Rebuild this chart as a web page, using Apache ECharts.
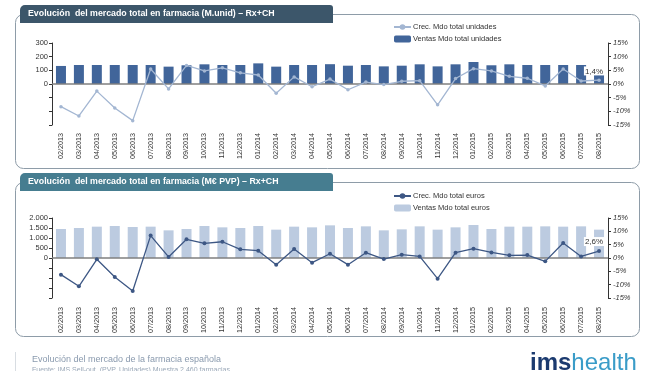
<!DOCTYPE html>
<html>
<head>
<meta charset="utf-8">
<script src="https://cdn.jsdelivr.net/npm/echarts@6/dist/echarts.min.js"></script>
<style>html,body{margin:0;padding:0;background:#fff;}#c{width:659px;height:371px;}</style>
</head>
<body>
<div id="c"></div>
<script>
var categories = ['02/2013','03/2013','04/2013','05/2013','06/2013','07/2013','08/2013','09/2013','10/2013','11/2013','12/2013',
  '01/2014','02/2014','03/2014','04/2014','05/2014','06/2014','07/2014','08/2014','09/2014','10/2014','11/2014','12/2014',
  '01/2015','02/2015','03/2015','04/2015','05/2015','06/2015','07/2015','08/2015'];
var unitsSales = [132,139,139,139,139,139,127,137,144,139,139,
  151,127,139,139,145,134,139,129,134,144,129,144,
  161,137,144,139,139,139,139,66];
var unitsGrowth = [-8.3,-11.7,-2.6,-8.8,-13.4,5.5,-1.8,6.8,4.8,5.9,4.1,
  3.3,-3.4,2.6,-1.0,1.8,-2.1,0.7,-0.2,1.0,1.2,-7.6,2.0,
  5.6,4.8,2.8,2.1,-0.7,5.5,1.1,1.4];
var eurosSales = [1450,1500,1567,1600,1550,1567,1383,1450,1600,1533,1500,
  1600,1417,1567,1533,1633,1500,1583,1383,1433,1583,1417,1533,
  1650,1450,1567,1567,1583,1567,1583,1417];
var eurosGrowth = [-6.25,-10.6,-0.5,-7.1,-12.4,8.4,0.4,7.0,5.5,6.1,3.25,
  2.75,-2.5,3.4,-1.75,1.6,-2.5,2.0,-0.4,1.25,0.6,-7.75,2.0,
  3.5,2.1,1.0,1.1,-1.25,5.6,0.6,2.6];
var unitsTicks = {min:-300, max:300, interval:100};
var eurosTicks = {min:-2000, max:2000, interval:500};
var pctTicks = {min:-15, max:15, interval:5};

var FONT = 'Liberation Sans, Arial, sans-serif';
function thousands(v){ return String(v).replace(/\B(?=(\d{3})+(?!\d))/g, '.'); }
function pctLabel(v){ return String(v).replace('.', ',') + '%'; }
function lastLabelData(arr){
  return arr.map(function(v, i){
    if (i === arr.length - 1) {
      return {value: v, label: {show: true, position: 'top', distance: 3, offset: [-5, 0],
        formatter: function(p){ return pctLabel(p.value); }, fontSize: 8, color: '#333', fontFamily: FONT,
        backgroundColor: '#fff', padding: [1, 1, 0, 1]}};
    }
    return v;
  });
}
var axisTxt = {fontSize: 7.5, color: '#333', fontFamily: FONT};
function catAxis(gi, margin){
  return {type: 'category', gridIndex: gi, data: categories, boundaryGap: true,
    axisLine: {show: false, onZero: false}, axisTick: {show: false},
    axisLabel: {rotate: 90, interval: 0, margin: margin, fontSize: 7.2, color: '#333', fontFamily: FONT}};
}
function leftAxis(gi, t, fmt){
  return {type: 'value', gridIndex: gi, position: 'left', min: t.min, max: t.max, interval: t.interval,
    axisLine: {show: true, lineStyle: {color: '#333', width: 1}},
    axisTick: {show: true, length: 3, lineStyle: {color: '#333'}},
    axisLabel: Object.assign({margin: 4, formatter: fmt}, axisTxt),
    splitLine: {show: false}};
}
function rightAxis(gi){
  return {type: 'value', gridIndex: gi, position: 'right', min: pctTicks.min, max: pctTicks.max, interval: pctTicks.interval,
    axisLine: {show: true, lineStyle: {color: '#333', width: 1}},
    axisTick: {show: true, length: 3, lineStyle: {color: '#333'}},
    axisLabel: Object.assign({margin: 5, fontStyle: 'italic', formatter: function(v){ return v + '%'; }}, axisTxt),
    splitLine: {show: false}};
}
var zeroLine = {silent: true, symbol: 'none', label: {show: false}, data: [{yAxis: 0}],
  lineStyle: {color: '#7f7f7f', width: 1.6, type: 'solid'}};

var chart = echarts.init(document.getElementById('c'), null, {renderer: 'canvas'});
chart.setOption({
  backgroundColor: '#fff',
  animation: false,
  graphic: [
    {type: 'rect', z: -10, shape: {x: 15.5, y: 14.5, width: 624, height: 154, r: 8},
      style: {fill: '#fff', stroke: '#8e9ca8', lineWidth: 1}},
    {type: 'rect', z: -10, shape: {x: 15.5, y: 182.5, width: 624, height: 154, r: 8},
      style: {fill: '#fff', stroke: '#8e9ca8', lineWidth: 1}},
    {type: 'rect', z: -5, shape: {x: 20, y: 5, width: 313, height: 18, r: [5, 3, 0, 0]},
      style: {fill: '#3c566a'}},
    {type: 'rect', z: -5, shape: {x: 20, y: 173, width: 313, height: 18, r: [5, 3, 0, 0]},
      style: {fill: '#467d90'}},
    {type: 'line', z: -5, shape: {x1: 15.5, y1: 352, x2: 15.5, y2: 371}, style: {stroke: '#d8dde2', lineWidth: 1}}
  ],
  title: [
    {text: 'Evolución  del mercado total en farmacia (M.unid) – Rx+CH', left: 28, top: 9, padding: 0, z: 10,
      textStyle: {fontSize: 8.8, fontWeight: 'bold', color: '#fff', fontFamily: FONT}},
    {text: 'Evolución  del mercado total en farmacia (M€ PVP) – Rx+CH', left: 28, top: 177, padding: 0, z: 10,
      textStyle: {fontSize: 8.8, fontWeight: 'bold', color: '#fff', fontFamily: FONT}},
    {text: 'Evolución del mercado de la farmacia española', left: 32, top: 355, padding: 0,
      textStyle: {fontSize: 9, fontWeight: 'normal', color: '#8a9aae', fontFamily: FONT}},
    {text: 'Fuente: IMS Sell-out. (PVP, Unidades) Muestra 2.460 farmacias', left: 32, top: 367, padding: 0,
      textStyle: {fontSize: 7, fontWeight: 'normal', color: '#9aa8b8', fontFamily: FONT}},
    {text: '{a|ims}{b|health}', left: 530, top: 351, padding: 0,
      textStyle: {fontFamily: FONT, rich: {
        a: {fontSize: 24, fontWeight: 'bold', color: '#1b3a6f', fontFamily: FONT},
        b: {fontSize: 24, fontWeight: 'normal', color: '#3a9cc8', fontFamily: FONT}}}}
  ],
  legend: [
    {orient: 'vertical', left: 388, top: 18, itemWidth: 17, itemHeight: 7, itemGap: 4,
      data: ['Crec. Mdo total unidades', 'Ventas Mdo total unidades'],
      textStyle: {fontSize: 7.5, color: '#333', fontFamily: FONT, padding: [0, 0, 0, -3]}},
    {orient: 'vertical', left: 388, top: 187, itemWidth: 17, itemHeight: 7, itemGap: 4,
      data: ['Crec. Mdo total euros', 'Ventas Mdo total euros'],
      textStyle: {fontSize: 7.5, color: '#333', fontFamily: FONT, padding: [0, 0, 0, -3]}}
  ],
  grid: [
    {left: 52, top: 43, width: 556, height: 82, containLabel: false},
    {left: 52, top: 218, width: 556, height: 80, containLabel: false}
  ],
  xAxis: [catAxis(0, 8), catAxis(1, 9)],
  yAxis: [
    leftAxis(0, unitsTicks, function(v){ return v >= 0 ? String(v) : ''; }),
    rightAxis(0),
    leftAxis(1, eurosTicks, function(v){ return v >= 0 ? thousands(v) : ''; }),
    rightAxis(1)
  ],
  series: [
    {name: 'Ventas Mdo total unidades', type: 'bar', xAxisIndex: 0, yAxisIndex: 0, data: unitsSales,
      barWidth: 10, itemStyle: {color: '#41659a'}, markLine: zeroLine, z: 2},
    {name: 'Crec. Mdo total unidades', type: 'line', xAxisIndex: 0, yAxisIndex: 1, data: lastLabelData(unitsGrowth),
      symbol: 'circle', symbolSize: 3.5, lineStyle: {color: '#a3b6d2', width: 1.3},
      itemStyle: {color: '#a3b6d2'}, z: 5},
    {name: 'Ventas Mdo total euros', type: 'bar', xAxisIndex: 1, yAxisIndex: 2, data: eurosSales,
      barWidth: 10, itemStyle: {color: '#bccbe0'}, markLine: zeroLine, z: 2},
    {name: 'Crec. Mdo total euros', type: 'line', xAxisIndex: 1, yAxisIndex: 3, data: lastLabelData(eurosGrowth),
      symbol: 'circle', symbolSize: 4, lineStyle: {color: '#3d5784', width: 1.3},
      itemStyle: {color: '#3d5784'}, z: 5}
  ]
});
</script>
</body>
</html>
